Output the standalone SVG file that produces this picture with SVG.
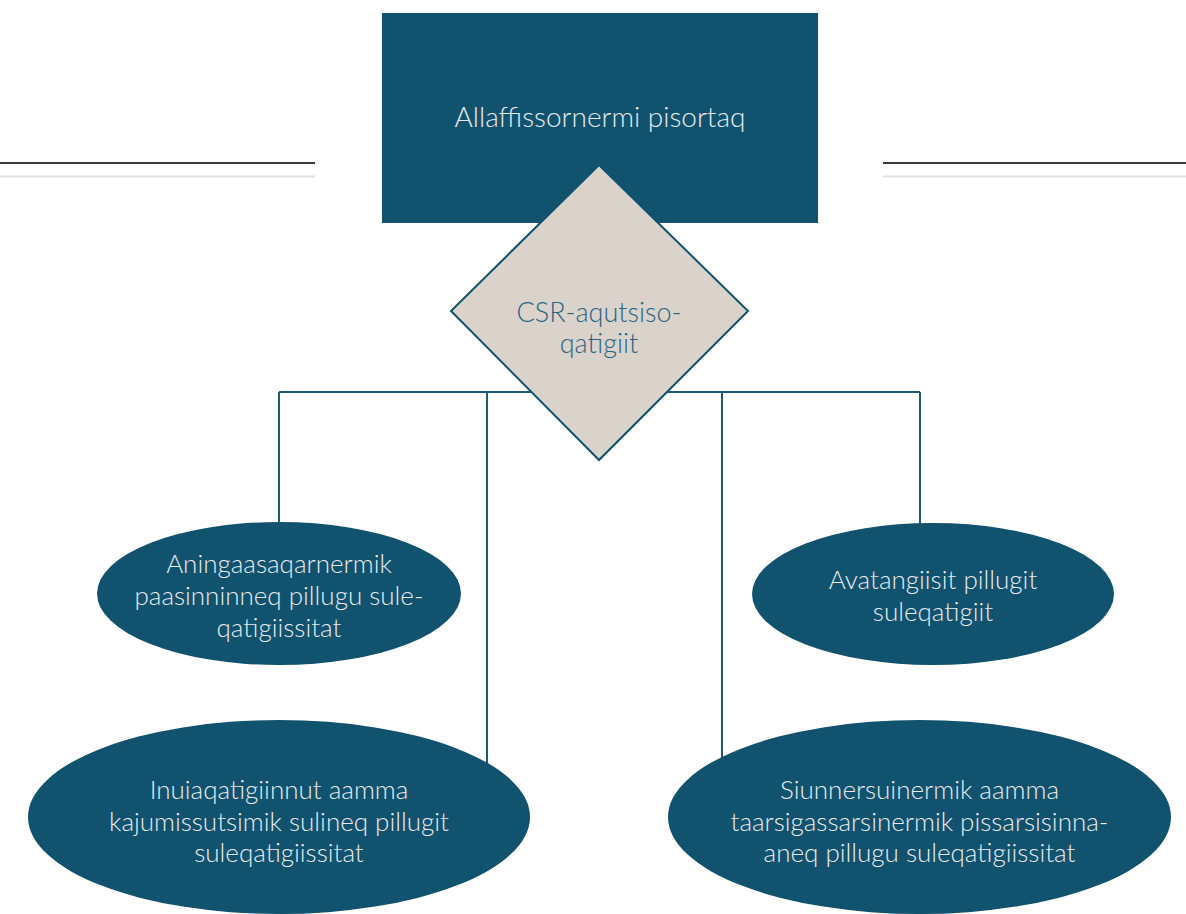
<svg xmlns="http://www.w3.org/2000/svg" width="1186" height="914" viewBox="0 0 1186 914">
  <style>
    .node { fill: #11526e; }
    .conn { stroke: #1f5a77; stroke-width: 2; fill: none; }
    .lt { font-family: Lato, "Open Sans", "Liberation Sans", sans-serif; font-weight: 300; fill: #e8ebee; text-anchor: middle; font-size: 26px; }
    .title { font-size: 28px; }
    .dt { font-family: Lato, "Open Sans", "Liberation Sans", sans-serif; font-weight: 300; fill: #2c6480; text-anchor: middle; font-size: 27px; }
  </style>
  <rect width="1186" height="914" fill="#ffffff"/>
  <g id="rules">
    <line x1="0" y1="163" x2="315" y2="163" stroke="#3a3a3a" stroke-width="2"/>
    <line x1="0" y1="176.5" x2="315" y2="176.5" stroke="#e4dfda" stroke-width="2"/>
    <line x1="883" y1="163" x2="1186" y2="163" stroke="#3a3a3a" stroke-width="2"/>
    <line x1="883" y1="176.5" x2="1186" y2="176.5" stroke="#e4dfda" stroke-width="2"/>
  </g>
  <g id="connectors">
    <path class="conn" d="M279 392 H920"/>
    <path class="conn" d="M279 392 V525"/>
    <path class="conn" d="M487 392 V768"/>
    <path class="conn" d="M722 392 V762"/>
    <path class="conn" d="M920 392 V526"/>
  </g>
  <g id="node-top">
    <rect class="node" x="382" y="13" width="436" height="210"/>
    <text class="lt title" x="600" y="127">Allaffissornermi pisortaq</text>
  </g>
  <g id="node-csr">
    <polygon points="599,165 748,311 599,460 451,311" fill="#d9d3cc" stroke="#11526e" stroke-width="2"/>
    <text class="dt" x="599" y="322">CSR-aqutsiso-</text>
    <text class="dt" x="599" y="353">qatigiit</text>
  </g>
  <g id="node-economic">
    <ellipse class="node" cx="279" cy="593.5" rx="182" ry="71.5"/>
    <text class="lt" x="279" y="573">Aningaasaqarnermik</text>
    <text class="lt" x="279" y="605">paasinninneq pillugu sule-</text>
    <text class="lt" x="279" y="637">qatigiissitat</text>
  </g>
  <g id="node-environment">
    <ellipse class="node" cx="933" cy="594" rx="181" ry="71"/>
    <text class="lt" x="933" y="589">Avatangiisit pillugit</text>
    <text class="lt" x="933" y="621">suleqatigiit</text>
  </g>
  <g id="node-social">
    <ellipse class="node" cx="279" cy="817" rx="251" ry="97"/>
    <text class="lt" x="279" y="799">Inuiaqatigiinnut aamma</text>
    <text class="lt" x="279" y="831">kajumissutsimik sulineq pillugit</text>
    <text class="lt" x="279" y="862">suleqatigiissitat</text>
  </g>
  <g id="node-innovation">
    <ellipse class="node" cx="919.5" cy="817" rx="251.5" ry="97"/>
    <text class="lt" x="919.5" y="799">Siunnersuinermik aamma</text>
    <text class="lt" x="919.5" y="831">taarsigassarsinermik pissarsisinna-</text>
    <text class="lt" x="919.5" y="862">aneq pillugu suleqatigiissitat</text>
  </g>
</svg>
